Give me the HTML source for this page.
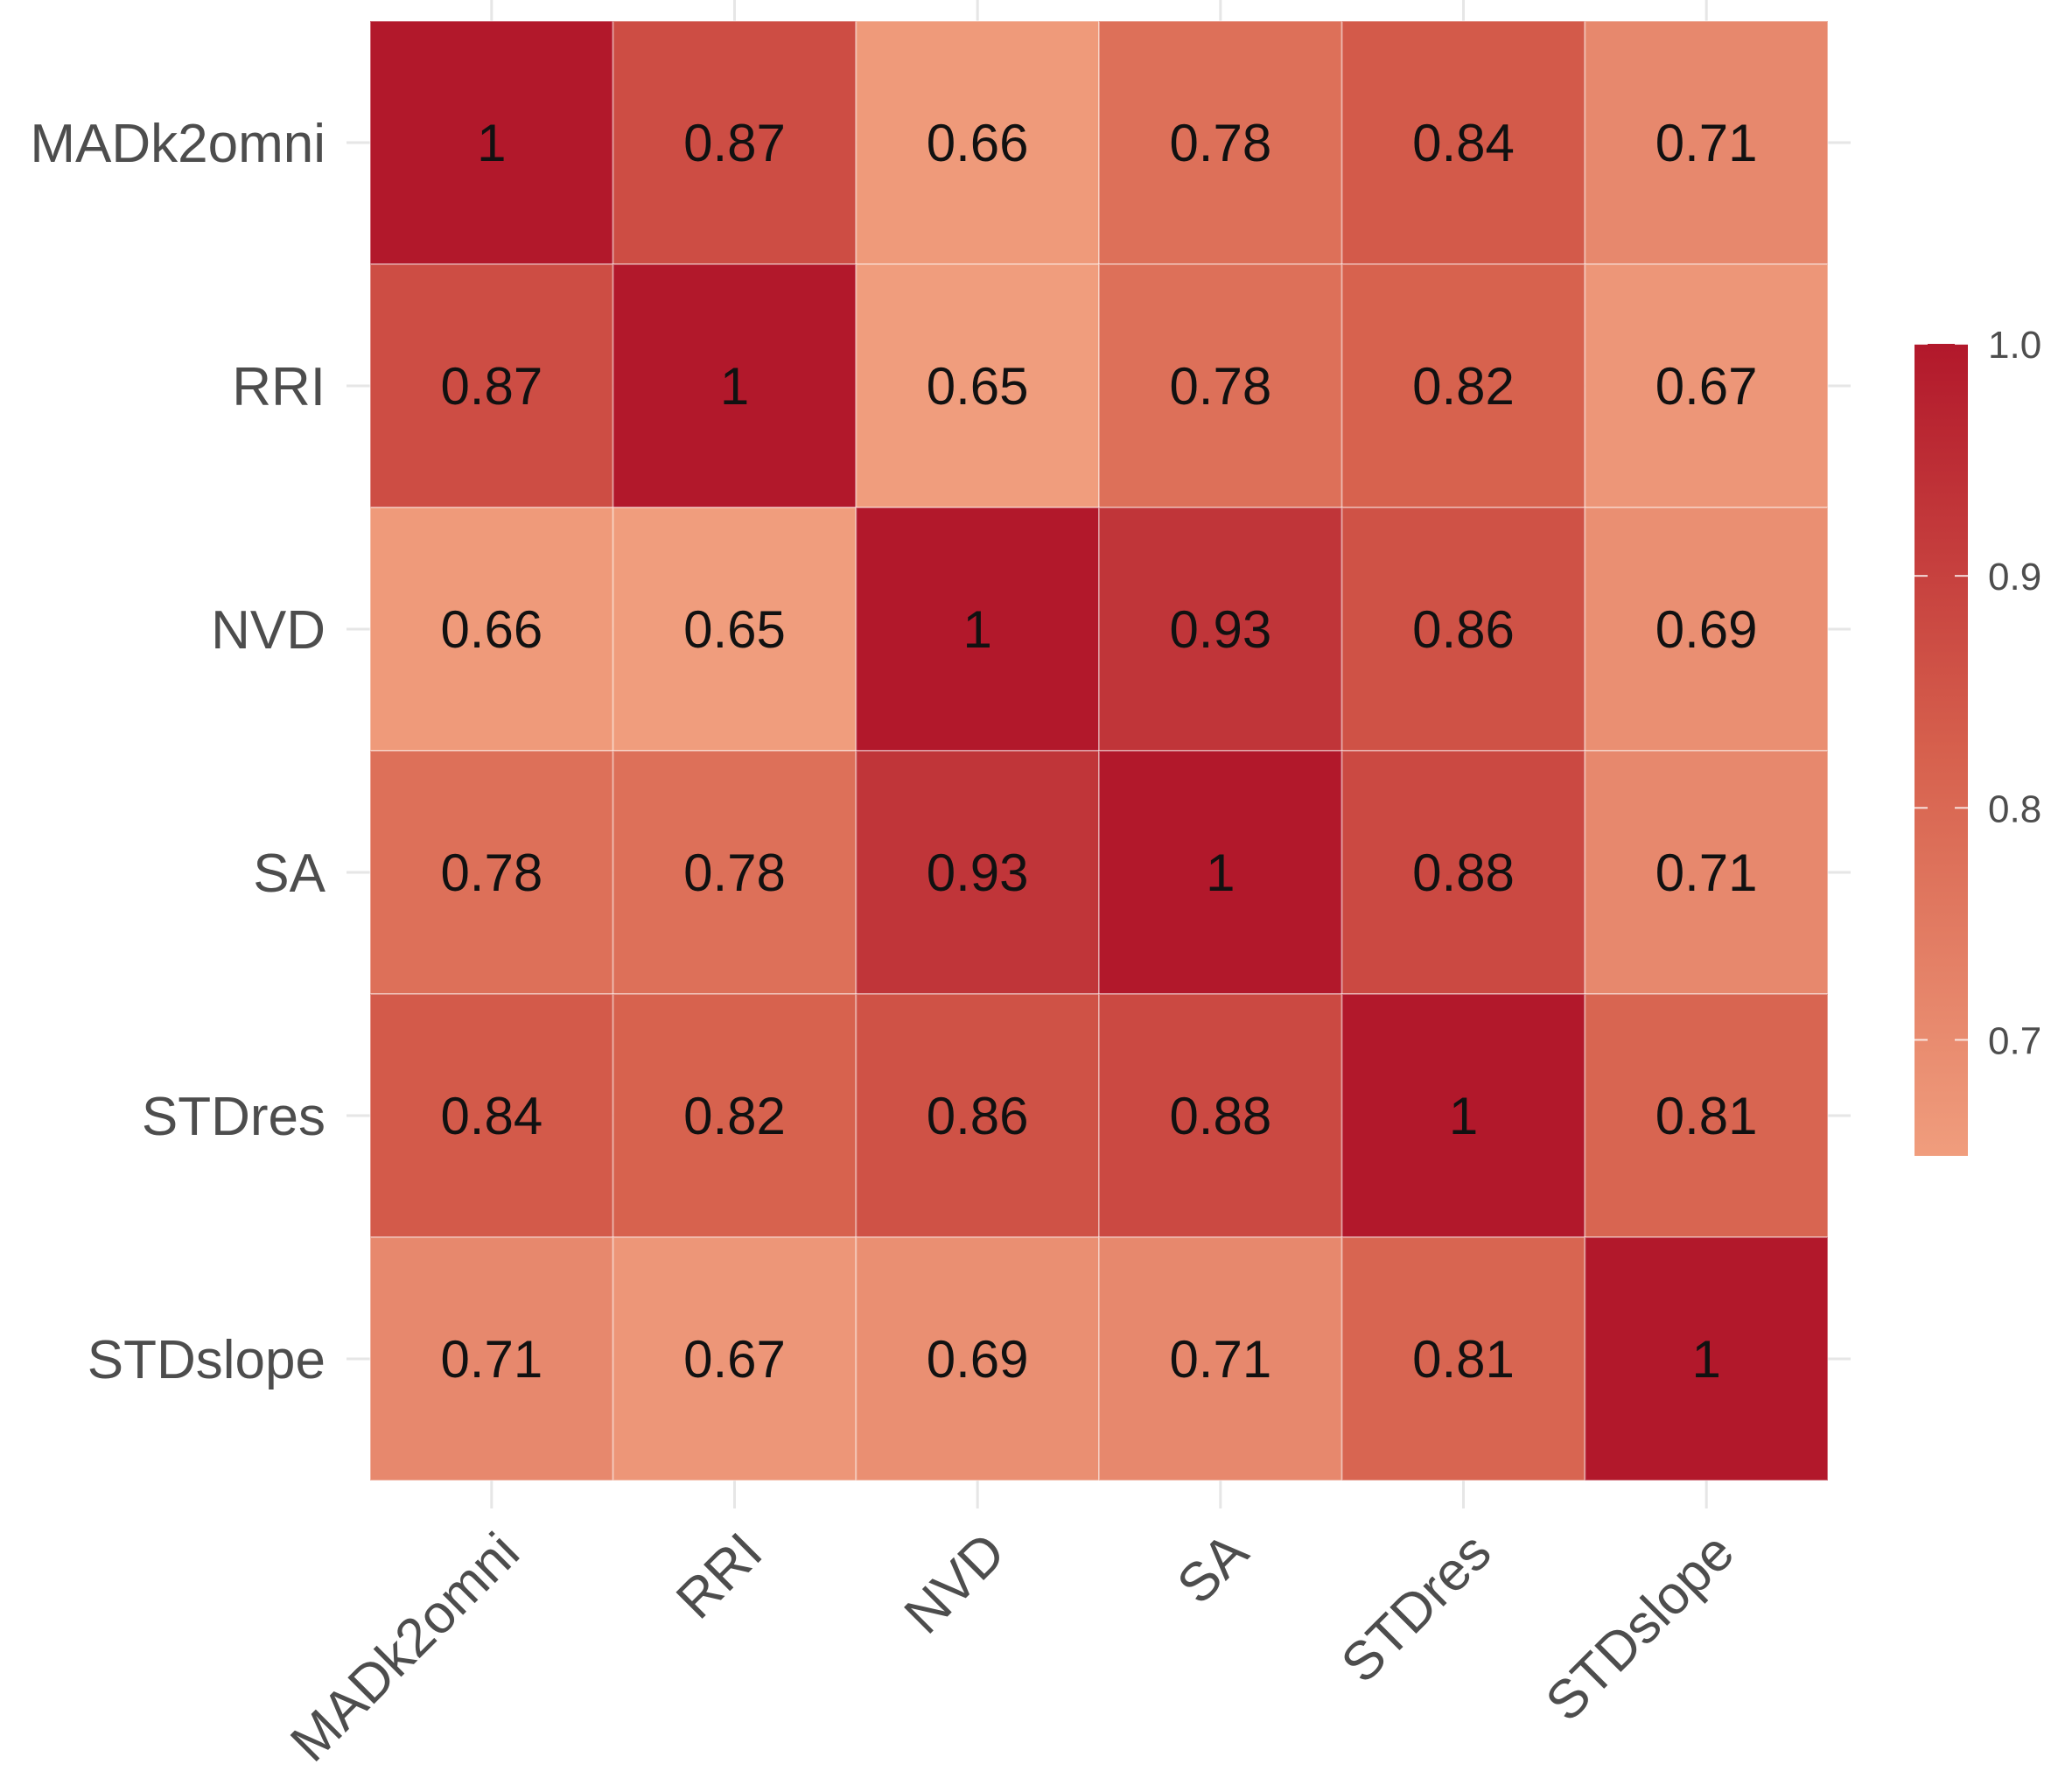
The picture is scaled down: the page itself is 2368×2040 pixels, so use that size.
<!DOCTYPE html>
<html><head><meta charset="utf-8"><style>
html,body{margin:0;padding:0;background:#fff;}
svg{display:block;font-family:"Liberation Sans",Arial,sans-serif;}
</style></head><body>
<svg id="chart" width="2368" height="2040" viewBox="0 0 2368 2040" xmlns="http://www.w3.org/2000/svg">
<defs>
<linearGradient id="cbgrad" x1="0" y1="1" x2="0" y2="0">
<stop offset="0" stop-color="#F09D7D"/>
<stop offset="0.5" stop-color="#D6604D"/>
<stop offset="1" stop-color="#B2182B"/>
</linearGradient>
</defs>
<g id="grid"></g>
<g id="cells"></g>
<g id="ylabels"></g>
<g id="xlabels"></g>
<g id="legend"></g>
</svg>
<script>
const categories = ["MADk2omni","RRI","NVD","SA","STDres","STDslope"];
const row0 = [1,0.87,0.66,0.78,0.84,0.71];
const row1 = [0.87,1,0.65,0.78,0.82,0.67];
const row2 = [0.66,0.65,1,0.93,0.86,0.69];
const row3 = [0.78,0.78,0.93,1,0.88,0.71];
const row4 = [0.84,0.82,0.86,0.88,1,0.81];
const row5 = [0.71,0.67,0.69,0.71,0.81,1];
const matrix = [row0,row1,row2,row3,row4,row5];
const legendTicks = [0.7,0.8,0.9,1.0];
const legendMin = 0.65, legendMax = 1.0;

const NS = "http://www.w3.org/2000/svg";
const L = 423, R = 2089, T = 24, B = 1692;
const n = categories.length;
const cw = (R - L) / n, ch = (B - T) / n;
const xPos = i => L + i * cw;
const yPos = j => T + j * ch;
function mk(tag, attrs, parent){ const e=document.createElementNS(NS,tag); for(const k in attrs) e.setAttribute(k,attrs[k]); parent.appendChild(e); return e; }
function hex(h){return [parseInt(h.slice(1,3),16),parseInt(h.slice(3,5),16),parseInt(h.slice(5,7),16)];}
const stops=[[0.65,hex("#F09D7D")],[0.825,hex("#D6604D")],[1.0,hex("#B2182B")]];
function color(v){
  v=Math.max(legendMin,Math.min(legendMax,v));
  for(let i=0;i<stops.length-1;i++){
    const [a,ca]=stops[i],[b,cb]=stops[i+1];
    if(v>=a&&v<=b){const t=(v-a)/(b-a);return "rgb("+ca.map((c,k)=>Math.round(c+(cb[k]-c)*t)).join(",")+")";}
  }
  return "#B2182B";
}
const grid=document.getElementById("grid"), cells=document.getElementById("cells");
const yl=document.getElementById("ylabels"), xl=document.getElementById("xlabels"), lg=document.getElementById("legend");
for(let i=0;i<n;i++){
  const cx=xPos(i)+cw/2, cy=yPos(i)+ch/2;
  let g=mk("line",{x1:cx,y1:0,x2:cx,y2:1724,stroke:"#E6E6E6","stroke-width":3},grid);
  
  
  g=mk("line",{x1:396,y1:cy,x2:2115,y2:cy,stroke:"#E6E6E6","stroke-width":3},grid);
  
  
}
for(let j=0;j<n;j++){
  for(let i=0;i<n;i++){
    const v=matrix[j][i];
    const r=mk("rect",{x:xPos(i),y:yPos(j),width:cw,height:ch,fill:color(v),stroke:"rgba(255,255,255,0.35)","stroke-width":2},cells);
    
    
    const t=mk("text",{x:xPos(i)+cw/2,y:yPos(j)+ch/2+21,"text-anchor":"middle","font-size":60,fill:"#111"},cells);
    t.textContent=String(v);
    
    
  }
}
for(let j=0;j<n;j++){
  const t=mk("text",{x:372,y:yPos(j)+ch/2+22,"text-anchor":"end","font-size":62,fill:"#4D4D4D"},yl);
  t.textContent=categories[j];
  
  
}
for(let i=0;i<n;i++){
  const ax=xPos(i)+cw/2+35, ay=1778;
  const t=mk("text",{x:ax,y:ay,"text-anchor":"end","font-size":62,fill:"#4D4D4D",transform:"rotate(-45 "+ax+" "+ay+")"},xl);
  t.textContent=categories[i];
  
  
}
const cbL=2188, cbW=61, cbT=393, cbB=1321;
const cbY=v=>cbB-(v-legendMin)/(legendMax-legendMin)*(cbB-cbT);
let bar=mk("rect",{x:cbL,y:cbT,width:cbW,height:cbB-cbT,fill:"url(#cbgrad)"},lg);


legendTicks.forEach(v=>{
  const y=cbY(v);
  let a=mk("line",{x1:cbL,y1:y,x2:cbL+15,y2:y,stroke:"#fff","stroke-width":2,opacity:0.8},lg);
  
  
  a=mk("line",{x1:cbL+cbW-15,y1:y,x2:cbL+cbW,y2:y,stroke:"#fff","stroke-width":2,opacity:0.8},lg);
  
  
  const t=mk("text",{x:2272,y:y+16,"font-size":44,fill:"#4D4D4D"},lg);
  t.textContent=v.toFixed(1);
  
  
});
</script>
</body></html>
